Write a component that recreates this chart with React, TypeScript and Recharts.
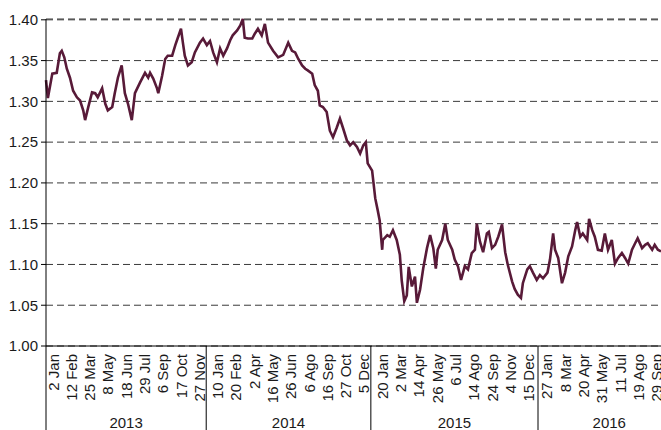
import React from 'react';
import { LineChart, Line, XAxis, YAxis, CartesianGrid } from 'recharts';

// trading-day index (0 = 2 Jan 2013) and EUR/USD
const days = [0, 3, 10, 17, 22, 25, 29, 33, 38, 43, 49, 54, 59, 62, 67, 73, 78, 82, 89, 94, 98, 105, 109, 114, 120, 125, 130, 136, 141, 149, 157, 162, 165, 170, 176, 178, 184, 189, 193, 200, 205, 209, 214, 217, 220, 225, 231, 236, 244, 249, 255, 260, 265, 271, 276, 281, 287, 292, 296, 303, 308, 312, 315, 320, 327, 331, 336, 342, 347, 352, 360, 368, 376, 384, 390, 395, 400, 406, 411, 415, 422, 426, 431, 434, 439, 445, 450, 455, 461, 466, 471, 477, 482, 487, 493, 498, 503, 507, 510, 517, 522, 526, 529, 533, 534, 541, 545, 550, 556, 561, 564, 568, 572, 575, 580, 585, 588, 593, 598, 604, 609, 614, 618, 621, 628, 633, 637, 644, 648, 653, 658, 664, 669, 675, 680, 683, 688, 693, 699, 702, 707, 712, 717, 723, 728, 732, 739, 743, 748, 753, 756, 763, 767, 772, 778, 783, 788, 795, 799, 804, 807, 812, 818, 823, 828, 834, 839, 842, 847, 851, 858, 861, 866, 870, 875, 881, 886, 891, 897, 902, 907, 913, 918, 923, 929, 934, 938, 945, 950, 954, 961, 965, 970, 975];

const eurUsd = [1.326, 1.304, 1.334, 1.335, 1.359, 1.362, 1.354, 1.340, 1.329, 1.313, 1.305, 1.301, 1.289, 1.277, 1.293, 1.311, 1.310, 1.305, 1.316, 1.297, 1.289, 1.293, 1.310, 1.329, 1.344, 1.310, 1.297, 1.277, 1.310, 1.323, 1.335, 1.329, 1.335, 1.328, 1.316, 1.310, 1.331, 1.352, 1.356, 1.356, 1.369, 1.378, 1.389, 1.372, 1.356, 1.344, 1.348, 1.360, 1.372, 1.377, 1.369, 1.374, 1.360, 1.348, 1.365, 1.356, 1.365, 1.375, 1.381, 1.387, 1.393, 1.401, 1.378, 1.377, 1.377, 1.383, 1.389, 1.381, 1.395, 1.372, 1.362, 1.354, 1.357, 1.372, 1.362, 1.360, 1.352, 1.344, 1.340, 1.338, 1.334, 1.320, 1.313, 1.295, 1.293, 1.287, 1.264, 1.256, 1.268, 1.279, 1.267, 1.252, 1.246, 1.250, 1.244, 1.236, 1.246, 1.250, 1.224, 1.215, 1.181, 1.166, 1.154, 1.118, 1.130, 1.136, 1.134, 1.142, 1.130, 1.112, 1.080, 1.055, 1.062, 1.097, 1.073, 1.085, 1.053, 1.069, 1.095, 1.120, 1.136, 1.120, 1.095, 1.118, 1.130, 1.150, 1.130, 1.118, 1.106, 1.098, 1.081, 1.098, 1.094, 1.114, 1.118, 1.150, 1.128, 1.115, 1.138, 1.140, 1.120, 1.124, 1.134, 1.149, 1.115, 1.100, 1.079, 1.070, 1.063, 1.059, 1.077, 1.094, 1.098, 1.090, 1.081, 1.087, 1.083, 1.090, 1.106, 1.138, 1.118, 1.108, 1.077, 1.090, 1.110, 1.122, 1.142, 1.152, 1.134, 1.138, 1.130, 1.156, 1.142, 1.134, 1.118, 1.117, 1.138, 1.118, 1.130, 1.101, 1.108, 1.114, 1.108, 1.101, 1.118, 1.126, 1.132, 1.120, 1.124, 1.126, 1.118, 1.124, 1.118, 1.116];

const dateLabels = [
  '2 Jan', '12 Feb', '25 Mar', '8 May', '18 Jun', '29 Jul', '6 Sep', '17 Oct', '27 Nov',
  '10 Jan', '20 Feb', '2 Apr', '16 May', '26 Jun', '6 Ago', '16 Sep', '27 Oct', '5 Dec',
  '20 Jan', '2 Mar', '14 Apr', '26 May', '6 Jul', '14 Ago', '24 Sep', '4 Nov', '15 Dec',
  '27 Jan', '8 Mar', '20 Apr', '31 May', '11 Jul', '19 Ago', '29 Sep',
];
const labelStep = 29;
const dateTicks = dateLabels.map((_, i) => i * labelStep);

const years = ['2013', '2014', '2015', '2016'];
const yearStarts = [0, 254, 515, 780];
const yearEnds = [254, 515, 780, 1006];
const yearMids = yearStarts.map((s, i) => (s + yearEnds[i]) / 2);

const yTicks = [1.0, 1.05, 1.1, 1.15, 1.2, 1.25, 1.3, 1.35, 1.4];

const data = days.map((d, i) => ({ day: d, rate: eurUsd[i] }));
const allTicks = Array.from(new Set([...dateTicks, ...yearStarts, ...yearMids])).sort((a, b) => a - b);

const font = '"Liberation Sans", Arial, sans-serif';
const textColor = '#1a1a1a';

const AxisTick = (props: any) => {
  const { x, y, payload } = props;
  const v = payload.value;
  const li = dateTicks.indexOf(v);
  const yi = yearMids.indexOf(v);
  return (
    <g>
      {yearStarts.includes(v) && <line x1={x} y1={y} x2={x} y2={y + 90} stroke="#000" strokeWidth={1} />}
      {li >= 0 && (
        <text
          x={x + 7}
          y={y + 8}
          transform={`rotate(-90, ${x + 7}, ${y + 8})`}
          textAnchor="end"
          dominantBaseline="central"
          fontSize={15}
          fontFamily={font}
          fill={textColor}
        >
          {dateLabels[li]}
        </text>
      )}
      {yi >= 0 && (
        <text x={x} y={y + 82} textAnchor="middle" fontSize={15} fontFamily={font} fill={textColor}>
          {years[yi]}
        </text>
      )}
    </g>
  );
};

const App: React.FC = () => {
  return (
    <div style={{ position: 'absolute', left: 0, top: 0, width: 661, height: 430, overflow: 'hidden', background: '#fff' }}>
      <LineChart width={661} height={430} data={data} margin={{ top: 19, right: 0, bottom: 0, left: 0 }}>
        <CartesianGrid vertical={false} stroke="#3a3a3a" strokeDasharray="7 4" />
        <XAxis
          dataKey="day"
          type="number"
          domain={[0, 975]}
          ticks={allTicks}
          interval={0}
          height={84}
          tickSize={0}
          tickMargin={0}
          tickLine={false}
          axisLine={{ stroke: '#000' }}
          tick={<AxisTick />}
        />
        <YAxis
          domain={[1.0, 1.4]}
          ticks={yTicks}
          width={46}
          tickSize={5}
          tickMargin={3}
          tickFormatter={(v: number) => v.toFixed(2)}
          axisLine={{ stroke: '#000' }}
          tickLine={{ stroke: '#000' }}
          tick={{ fill: textColor, fontSize: 15, fontFamily: font }}
        />
        <Line
          type="linear"
          dataKey="rate"
          stroke="#581a38"
          strokeWidth={2.6}
          strokeLinejoin="miter"
          dot={false}
          isAnimationActive={false}
        />
      </LineChart>
    </div>
  );
};

export default App;
